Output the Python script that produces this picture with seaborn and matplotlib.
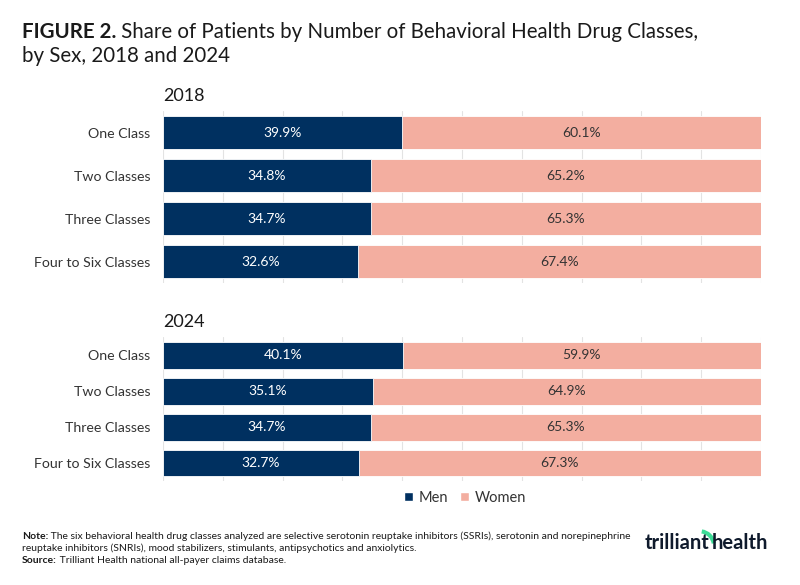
import matplotlib
matplotlib.use("Agg")
import matplotlib.pyplot as plt
import seaborn as sns
import pandas as pd
from matplotlib.patches import Arc, Patch

categories = ["One Class", "Two Classes", "Three Classes", "Four to Six Classes"]
men_2018 = [39.9, 34.8, 34.7, 32.6]
women_2018 = [60.1, 65.2, 65.3, 67.4]
men_2024 = [40.1, 35.1, 34.7, 32.7]
women_2024 = [59.9, 64.9, 65.3, 67.3]
years = ["2018", "2024"]

NAVY = "#003060"
SALMON = "#F3AEA0"
TEXT = "#1a1a1a"
FONT = ["Lato", "DejaVu Sans"]

sns.set_theme(style="white")
plt.rcParams["font.family"] = FONT

fig = plt.figure(figsize=(8, 5.85), dpi=100)
ax1 = fig.add_axes([0.20375, 0.5162, 0.7475, 0.294])
ax2 = fig.add_axes([0.20375, 0.1778, 0.7475, 0.246])

panels = [(ax1, years[0], men_2018, women_2018), (ax2, years[1], men_2024, women_2024)]
for ax, yr, men, women in panels:
    df = pd.DataFrame({"cat": categories, "Men": men, "Women": women})
    df["total"] = df["Men"] + df["Women"]
    sns.barplot(data=df, y="cat", x="total", color=SALMON, ax=ax, width=0.75,
                orient="h", edgecolor="white", linewidth=0.6, saturation=1)
    sns.barplot(data=df, y="cat", x="Men", color=NAVY, ax=ax, width=0.75,
                orient="h", edgecolor="white", linewidth=0.6, saturation=1)
    for i, (m, w) in enumerate(zip(men, women)):
        ax.text(m / 2, i, f"{m:.1f}%", ha="center", va="center", color="white", fontsize=10)
        ax.text(m + w / 2, i, f"{w:.1f}%", ha="center", va="center", color="#333333", fontsize=10)
    ax.set_xlim(0, 100)
    ax.set_ylim(3.5, -0.5)
    ax.set_xticks(range(0, 101, 10))
    ax.xaxis.grid(True, color="#e3e3e3", linewidth=0.8)
    ax.set_axisbelow(True)
    ax.set_xticklabels([])
    ax.tick_params(axis="x", length=0)
    ax.tick_params(axis="y", length=0, pad=9, labelsize=10.2, labelcolor="#333333")
    ax.set_xlabel("")
    ax.set_ylabel("")
    for s in ax.spines.values():
        s.set_visible(False)
    ax.text(0, 1.0 + 7 / (ax.get_position().height * 585), yr, transform=ax.transAxes,
            ha="left", va="bottom", fontsize=13, color=TEXT)

fig.canvas.draw()
renderer = fig.canvas.get_renderer()


def runs(x_px, y_px, parts, fontsize, color=TEXT):
    x = x_px
    for txt, bold in parts:
        t = fig.text(x / 800, 1 - y_px / 585, txt, fontsize=fontsize,
                     fontweight="bold" if bold else "normal", color=color,
                     ha="left", va="baseline")
        bb = t.get_window_extent(renderer=renderer)
        x += bb.width
    return x


# title
runs(22, 38, [("FIGURE 2.", True), (" Share of Patients by Number of Behavioral Health Drug Classes,", False)], 14.8)
runs(22, 62, [("by Sex, 2018 and 2024", False)], 14.8)

# legend
handles = [Patch(facecolor=NAVY, label="Men"), Patch(facecolor=SALMON, label="Women")]
fig.legend(handles=handles, loc="center", bbox_to_anchor=(465 / 800, 1 - 498 / 585), ncol=2,
           frameon=False, fontsize=10.5, handlelength=0.6, handleheight=0.6, handletextpad=0.4,
           columnspacing=0.8, labelcolor="#333333")

# notes
fs = 7.5
runs(22, 539, [("Note:", True), (" The six behavioral health drug classes analyzed are selective serotonin reuptake inhibitors (SSRIs), serotonin and norepinephrine", False)], fs)
runs(22, 551, [("reuptake inhibitors (SNRIs), mood stabilizers, stimulants, antipsychotics and anxiolytics.", False)], fs)
runs(22, 563, [("Source:", True), (" Trilliant Health national all-payer claims database.", False)], fs)

# logo
fig.text(645 / 800, 1 - 549 / 585, "trilliant", fontsize=14.5, fontweight="bold",
         color="#0f1a2c", ha="left", va="baseline")
fig.text(768 / 800, 1 - 549 / 585, "health", fontsize=14.5, fontweight="bold",
         color="#0f1a2c", ha="right", va="baseline")
arc = Arc((700 / 800, 1 - 546 / 585), 0.035, 0.05, theta1=15, theta2=85,
          transform=fig.transFigure, color="#3ddc97", linewidth=3)
fig.add_artist(arc)

fig.savefig("out.png", dpi=100)
